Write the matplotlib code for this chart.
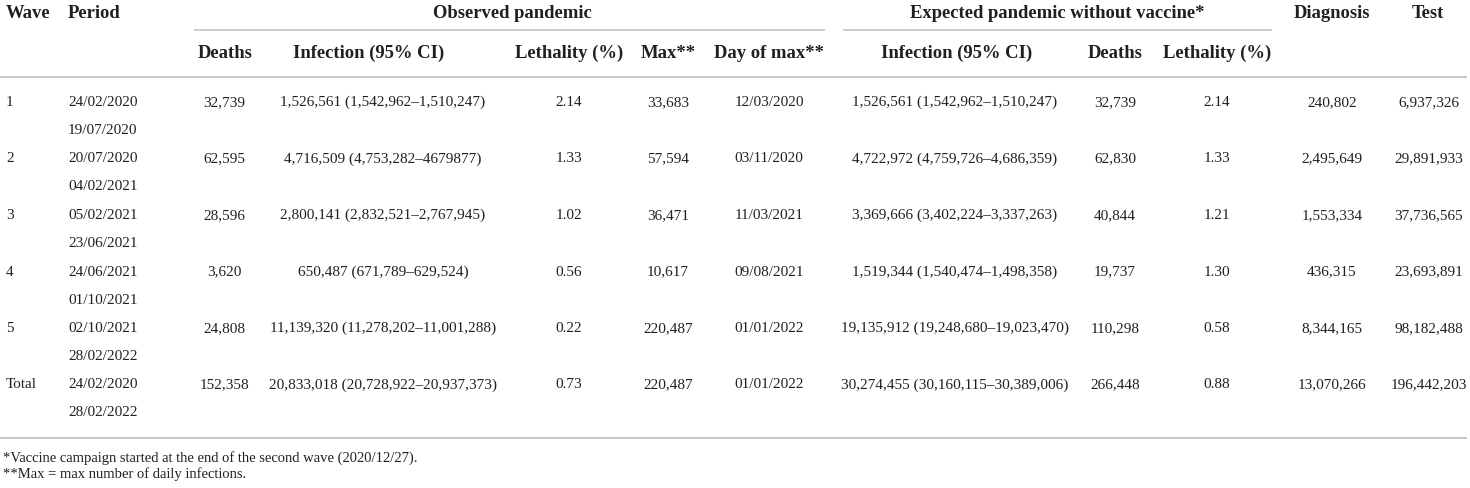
import matplotlib
matplotlib.use("Agg")
import matplotlib.pyplot as plt

# table values
waves = ["1", "2", "3", "4", "5", "Total"]
period_start = ["24/02/2020", "20/07/2020", "05/02/2021", "24/06/2021", "02/10/2021", "24/02/2020"]
period_end = ["19/07/2020", "04/02/2021", "23/06/2021", "01/10/2021", "28/02/2022", "28/02/2022"]

obs_deaths = [32739, 62595, 28596, 3620, 24808, 152358]
obs_infection = [1526561, 4716509, 2800141, 650487, 11139320, 20833018]
obs_ci = ["1,542,962–1,510,247", "4,753,282–4679877", "2,832,521–2,767,945",
          "671,789–629,524", "11,278,202–11,001,288", "20,728,922–20,937,373"]
obs_lethality = [2.14, 1.33, 1.02, 0.56, 0.22, 0.73]
obs_max = [33683, 57594, 36471, 10617, 220487, 220487]
day_of_max = ["12/03/2020", "03/11/2020", "11/03/2021", "09/08/2021", "01/01/2022", "01/01/2022"]

exp_infection = [1526561, 4722972, 3369666, 1519344, 19135912, 30274455]
exp_ci = ["1,542,962–1,510,247", "4,759,726–4,686,359", "3,402,224–3,337,263",
          "1,540,474–1,498,358", "19,248,680–19,023,470", "30,160,115–30,389,006"]
exp_deaths = [32739, 62830, 40844, 19737, 110298, 266448]
exp_lethality = [2.14, 1.33, 1.21, 1.30, 0.58, 0.88]

diagnosis = [240802, 2495649, 1553334, 436315, 8344165, 13070266]
tests = [6937326, 29891933, 37736565, 23693891, 98182488, 196442203]

footnotes = ["*Vaccine campaign started at the end of the second wave (2020/12/27).",
             "**Max = max number of daily infections."]

W, H = 1470, 489
TEXT = "#231f20"
RULE = "#c9c9c9"
FONT = "Liberation Serif"
BODY = 11.0
HEAD = 13.4

fig = plt.figure(figsize=(W / 100, H / 100), dpi=100)
ax = fig.add_axes([0, 0, 1, 1])
ax.set_xlim(0, W)
ax.set_ylim(H, 0)
ax.axis("off")


def put(x, y, s, ha="center", bold=False, size=None):
    ax.text(x, y, s, ha=ha, va="center", color=TEXT, family=FONT,
            fontsize=size or (HEAD if bold else BODY),
            fontweight="bold" if bold else "normal")


# header
put(6, 13, "Wave", ha="left", bold=True)
put(68, 13, "Period", ha="left", bold=True)
put(512, 13, "Observed pandemic", bold=True)
put(1057, 13, "Expected pandemic without vaccine*", bold=True)
put(1332, 13, "Diagnosis", bold=True)
put(1428, 13, "Test", bold=True)

ax.plot([194, 825], [31, 31], color=RULE, lw=1.3, solid_capstyle="butt")
ax.plot([843, 1272], [31, 31], color=RULE, lw=1.3, solid_capstyle="butt")

sub = [(225, "Deaths"), (369, "Infection (95% CI)"), (569, "Lethality (%)"),
       (668, "Max**"), (769, "Day of max**"), (957, "Infection (95% CI)"),
       (1115, "Deaths"), (1217, "Lethality (%)")]
for x, s in sub:
    put(x, 53, s, bold=True)

ax.plot([0, 1467], [78, 78], color=RULE, lw=1.5, solid_capstyle="butt")

row_y0, row_step = 102.5, 56.5
for i in range(len(waves)):
    y = row_y0 + i * row_step
    put(6, y, waves[i], ha="left")
    put(68, y, period_start[i], ha="left")
    put(68, y + 28, period_end[i], ha="left")
    put(224, y, f"{obs_deaths[i]:,}")
    put(383, y, f"{obs_infection[i]:,} ({obs_ci[i]})")
    put(569, y, f"{obs_lethality[i]:.2f}")
    put(668, y, f"{obs_max[i]:,}")
    put(769, y, day_of_max[i])
    put(955, y, f"{exp_infection[i]:,} ({exp_ci[i]})")
    put(1115, y, f"{exp_deaths[i]:,}")
    put(1217, y, f"{exp_lethality[i]:.2f}")
    put(1332, y, f"{diagnosis[i]:,}")
    put(1429, y, f"{tests[i]:,}")

ax.plot([0, 1467], [439, 439], color=RULE, lw=1.5, solid_capstyle="butt")

put(3, 458, footnotes[0], ha="left", size=10.5)
put(3, 474, footnotes[1], ha="left", size=10.5)

fig.savefig("out.png", dpi=100, facecolor="white")
